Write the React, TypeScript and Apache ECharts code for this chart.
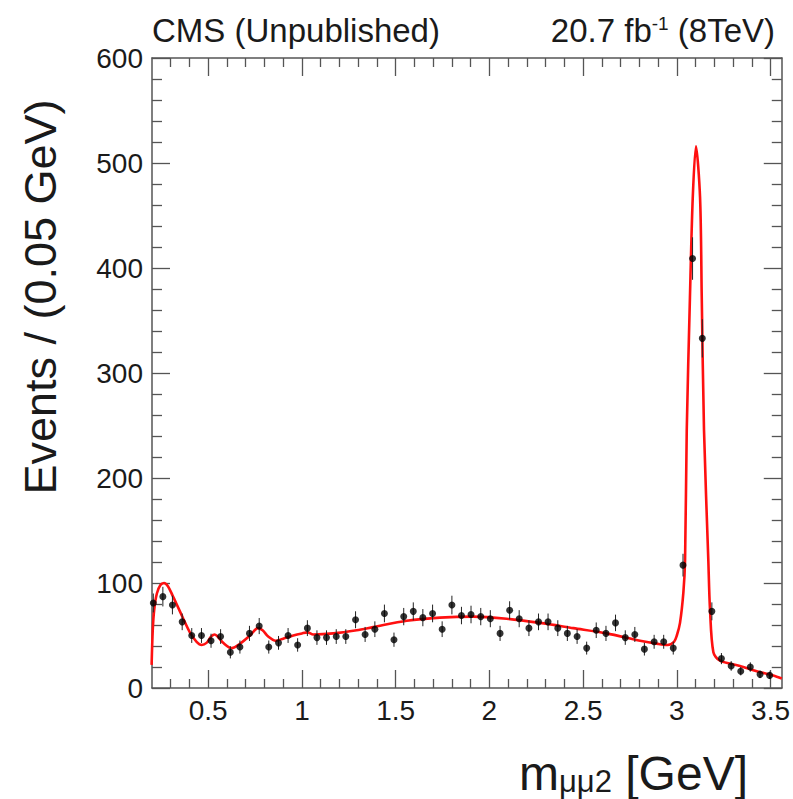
import React, { useEffect, useRef } from "react";
import * as echarts from "echarts";

// Bin centres (GeV) and event counts
const binX = [
  0.207, 0.258, 0.309, 0.361, 0.412, 0.464, 0.515, 0.566, 0.618, 0.669,
  0.72, 0.772, 0.823, 0.875, 0.926, 0.977, 1.029, 1.08, 1.131, 1.183,
  1.234, 1.286, 1.337, 1.389, 1.44, 1.491, 1.543, 1.594, 1.645, 1.697,
  1.748, 1.8, 1.851, 1.902, 1.954, 2.005, 2.057, 2.108, 2.159, 2.211,
  2.262, 2.313, 2.365, 2.416, 2.468, 2.519, 2.57, 2.622, 2.673, 2.725,
  2.776, 2.827, 2.879, 2.93, 2.981, 3.033, 3.084, 3.136, 3.187, 3.238,
  3.29, 3.341, 3.392, 3.444, 3.495,
];
const counts = [
  81, 87, 79, 63, 50, 50, 45, 49, 34, 39,
  52, 59, 39, 43, 50, 41, 57, 48, 48, 49,
  49, 65, 51, 56, 71, 46, 68, 73, 67, 71,
  56, 79, 69, 70, 68, 66, 52, 74, 66, 57,
  63, 63, 57, 52, 49, 38, 55, 52, 62, 48,
  51, 37, 44, 44, 38, 117, 409, 333, 73, 28,
  21, 16, 20, 13, 12,
];

// Fit curve
const fitX = [
  0.198, 0.204, 0.212, 0.226, 0.245, 0.264, 0.285, 0.31, 0.331, 0.367,
  0.402, 0.438, 0.465, 0.491, 0.515, 0.535, 0.555, 0.58, 0.625, 0.669,
  0.723, 0.765, 0.79, 0.82, 0.86, 0.9, 0.954, 1.0, 1.03, 1.06,
  1.167, 1.292, 1.38, 1.559, 1.736, 1.914, 2.092, 2.27, 2.448, 2.626,
  2.804, 2.9, 2.95, 2.985, 3.0, 3.017, 3.035, 3.044, 3.053, 3.07,
  3.085, 3.102, 3.124, 3.133, 3.145, 3.168, 3.177, 3.195, 3.23, 3.337,
  3.426, 3.515, 3.56,
];
const fitY = [
  22, 55, 75, 90, 98, 100, 97, 88, 80, 66,
  53, 44, 41, 43, 49, 51, 48, 43, 38, 42,
  50, 57, 55, 49, 45, 47, 50, 52, 53, 51,
  52, 55, 58, 64, 67, 68, 66, 62, 57, 52,
  45, 42, 41, 44, 50, 62, 91, 122, 246, 372,
  467, 516, 467, 372, 246, 122, 75, 34, 26, 21,
  16, 12, 9,
];

const xMajor = [0.5, 1, 1.5, 2, 2.5, 3, 3.5];
const xMinor = [
  0.3, 0.4, 0.6, 0.7, 0.8, 0.9, 1.1, 1.2, 1.3, 1.4, 1.6, 1.7, 1.8, 1.9,
  2.1, 2.2, 2.3, 2.4, 2.6, 2.7, 2.8, 2.9, 3.1, 3.2, 3.3, 3.4,
];

const FONT = "'Liberation Sans', Arial, Helvetica, sans-serif";
const FRAME = "#555";

export default function App() {
  const ref = useRef<HTMLDivElement>(null);

  useEffect(() => {
    if (!ref.current) return;
    const chart = echarts.init(ref.current, null, { renderer: "svg" });

    const xBase = (position: string, ticks: number[], len: number, labels: boolean, line: boolean) => ({
      type: "value",
      position,
      min: 0.2,
      max: 3.56,
      axisLine: { show: line, onZero: false, lineStyle: { color: FRAME, width: 1.5 } },
      axisTick: {
        show: true,
        inside: true,
        length: len,
        customValues: ticks,
        lineStyle: { color: FRAME, width: 1.3 },
      },
      axisLabel: labels
        ? {
            show: true,
            customValues: ticks,
            fontSize: 28,
            fontFamily: FONT,
            color: "#1a1a1a",
            margin: 8,
            formatter: (v: number) => String(v),
          }
        : { show: false },
      splitLine: { show: false },
    });

    const yBase = (position: string, labels: boolean) => ({
      type: "value",
      position,
      min: 0,
      max: 600,
      interval: 100,
      axisLine: { show: true, onZero: false, lineStyle: { color: FRAME, width: 1.5 } },
      axisTick: { show: true, inside: true, length: 18, lineStyle: { color: FRAME, width: 1.3 } },
      minorTick: { show: true, splitNumber: 5, length: 10, lineStyle: { color: FRAME, width: 1.3 } },
      axisLabel: labels
        ? { show: true, fontSize: 28, fontFamily: FONT, color: "#1a1a1a", margin: 9 }
        : { show: false },
      splitLine: { show: false },
      minorSplitLine: { show: false },
    });

    chart.setOption({
      animation: false,
      backgroundColor: "#ffffff",
      grid: { left: 152, top: 58, width: 631, height: 630, containLabel: false },
      xAxis: [
        xBase("bottom", xMajor, 18, true, true),
        xBase("bottom", xMinor, 9, false, false),
        xBase("top", xMajor, 18, false, true),
        xBase("top", xMinor, 9, false, false),
      ],
      yAxis: [yBase("left", true), yBase("right", false)],
      series: [
        {
          type: "line",
          xAxisIndex: 0,
          yAxisIndex: 0,
          data: fitX.map((x, i) => [x, fitY[i]]),
          smooth: 0.3,
          showSymbol: false,
          lineStyle: { color: "#ff1010", width: 2.6 },
          z: 2,
        },
        {
          type: "custom",
          xAxisIndex: 0,
          yAxisIndex: 0,
          data: binX.map((x, i) => [x, counts[i]]),
          renderItem: (params: any, api: any) => {
            const x = api.value(0);
            const y = api.value(1);
            const e = Math.sqrt(y);
            const t = api.coord([x, y + e]);
            const b = api.coord([x, y - e]);
            return {
              type: "line",
              shape: { x1: t[0], y1: t[1], x2: b[0], y2: b[1] },
              style: { stroke: "#222", lineWidth: 1 },
            };
          },
          z: 3,
        },
        {
          type: "scatter",
          xAxisIndex: 0,
          yAxisIndex: 0,
          data: binX.map((x, i) => [x, counts[i]]),
          symbol: "circle",
          symbolSize: 7,
          itemStyle: { color: "#000" },
          z: 4,
        },
      ],
      graphic: [
        {
          type: "text",
          left: 152,
          top: 14,
          style: { text: "CMS (Unpublished)", fontSize: 33, fontFamily: FONT, fill: "#1a1a1a" },
        },
        {
          type: "text",
          right: 18,
          top: 14,
          style: {
            text: "{a|20.7 fb}{s|-1}{a| (8TeV)}",
            rich: {
              a: { fontSize: 33, fontFamily: FONT, fill: "#1a1a1a", verticalAlign: "bottom" },
              s: { fontSize: 19, fontFamily: FONT, fill: "#1a1a1a", verticalAlign: "top" },
            },
          },
        },
        {
          type: "text",
          x: 40,
          y: 297,
          rotation: Math.PI / 2,
          style: {
            text: "Events / (0.05 GeV)",
            fontSize: 45,
            fontFamily: FONT,
            fill: "#1a1a1a",
            align: "center",
            verticalAlign: "middle",
          },
        },
        {
          type: "text",
          x: 748,
          y: 773,
          style: {
            text: "{a|m}{b|μμ2}{a| [GeV]}",
            align: "right",
            verticalAlign: "middle",
            rich: {
              a: { fontSize: 48, fontFamily: FONT, fill: "#1a1a1a", verticalAlign: "bottom" },
              b: { fontSize: 31, fontFamily: FONT, fill: "#1a1a1a", verticalAlign: "bottom" },
            },
          },
        },
      ],
    });

    return () => chart.dispose();
  }, []);

  return (
    <div
      ref={ref}
      style={{ position: "absolute", left: 0, top: 0, width: 793, height: 799, background: "#fff" }}
    />
  );
}
